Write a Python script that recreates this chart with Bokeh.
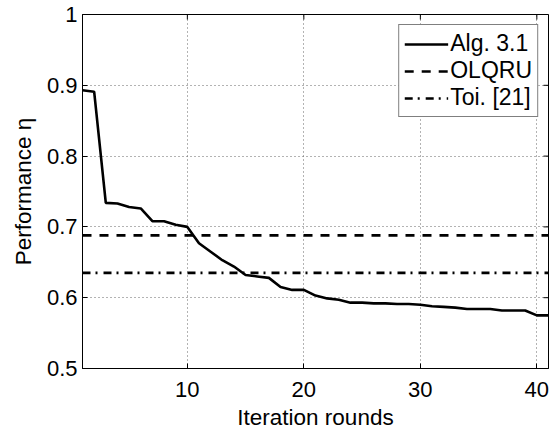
import math
from bokeh.plotting import figure
from bokeh.models import Range1d, FixedTicker, Legend, LegendItem
from bokeh.embed import file_html
from bokeh.resources import INLINE

iterations = list(range(1, 42))
alg31 = [0.893, 0.891, 0.734, 0.733, 0.728, 0.726, 0.708, 0.708, 0.703, 0.700,
         0.677, 0.665, 0.653, 0.644, 0.632, 0.630, 0.628, 0.615, 0.611, 0.611,
         0.603, 0.599, 0.597, 0.593, 0.593, 0.592, 0.592, 0.591, 0.591, 0.590,
         0.588, 0.587, 0.586, 0.584, 0.584, 0.584, 0.582, 0.582, 0.582, 0.575,
         0.575]
olqru_value = 0.688
toi_value = 0.635
x_ticks = [10, 20, 30, 40]
y_ticks = [0.5, 0.6, 0.7, 0.8, 0.9, 1.0]
labels = ["Alg. 3.1", "OLQRU", "Toi. [21]"]

FONT = "Liberation Sans"
TICK_FS = "22px"
LABEL_FS = "22.5px"
LEG_FS = "23px"

x_min, x_max = 1, 41
y_min, y_max = 0.5, 1.0

p = figure(width=558, height=432, output_backend="svg", toolbar_location=None,
           x_range=Range1d(x_min, x_max), y_range=Range1d(y_min, y_max),
           min_border_left=82, min_border_right=10, min_border_top=14, min_border_bottom=55)
p.background_fill_color = "white"
p.border_fill_color = "white"
p.outline_line_color = "black"
p.outline_line_width = 1

r1 = p.line(iterations, alg31, line_color="black", line_width=2.6)
bx = [x_min, x_max]
r2 = p.line(bx, [olqru_value, olqru_value], line_color="black", line_width=2.6, line_dash="9 8")
r3 = p.line(bx, [toi_value, toi_value], line_color="black", line_width=2.6, line_dash="8 5 2 6")

# inward ticks on the top and right frame edges (half of each dash is clipped by the frame)
p.scatter(x_ticks, [y_max] * len(x_ticks), marker="dash", angle=math.pi / 2, size=10,
          line_color="black", line_width=1)
p.scatter([x_max] * len(y_ticks), y_ticks, marker="dash", size=10,
          line_color="black", line_width=1)

for ax in (p.xaxis[0], p.yaxis[0]):
    ax.major_tick_in = 5
    ax.major_tick_out = 0
    ax.minor_tick_in = 0
    ax.minor_tick_out = 0
    ax.axis_line_color = "black"
    ax.major_tick_line_color = "black"
    ax.major_label_text_font = FONT
    ax.major_label_text_font_size = TICK_FS
    ax.major_label_text_color = "black"
    ax.axis_label_text_font = FONT
    ax.axis_label_text_font_size = LABEL_FS
    ax.axis_label_text_font_style = "normal"
    ax.axis_label_text_color = "black"

p.xaxis[0].ticker = FixedTicker(ticks=x_ticks)
p.yaxis[0].ticker = FixedTicker(ticks=y_ticks)
p.yaxis[0].major_label_overrides = {1.0: "1", 1: "1"}
p.xaxis[0].axis_label = "Iteration rounds"
p.yaxis[0].axis_label = "Performance η"
p.xaxis[0].major_label_standoff = 13
p.xaxis[0].axis_label_standoff = 5
p.yaxis[0].major_label_standoff = 5
p.yaxis[0].axis_label_standoff = 8

p.xgrid.ticker = FixedTicker(ticks=x_ticks)
p.ygrid.ticker = FixedTicker(ticks=y_ticks)
for g in (p.xgrid[0], p.ygrid[0]):
    g.grid_line_color = "#666666"
    g.grid_line_dash = "1 3"
    g.grid_line_width = 1

legend = Legend(items=[LegendItem(label=labels[0], renderers=[r1]),
                       LegendItem(label=labels[1], renderers=[r2]),
                       LegendItem(label=labels[2], renderers=[r3])],
                location="top_right")
legend.label_text_font = FONT
legend.label_text_font_size = LEG_FS
legend.label_text_color = "black"
legend.border_line_color = "black"
legend.border_line_width = 1
legend.background_fill_alpha = 1
legend.glyph_width = 44
legend.glyph_height = 24
legend.label_height = 24
legend.label_standoff = 2
legend.spacing = 0
legend.padding = 5
legend.margin = 10
legend.label_text_line_height = 1.0
p.add_layout(legend)

open("out.html", "w").write(file_html(p, INLINE))
